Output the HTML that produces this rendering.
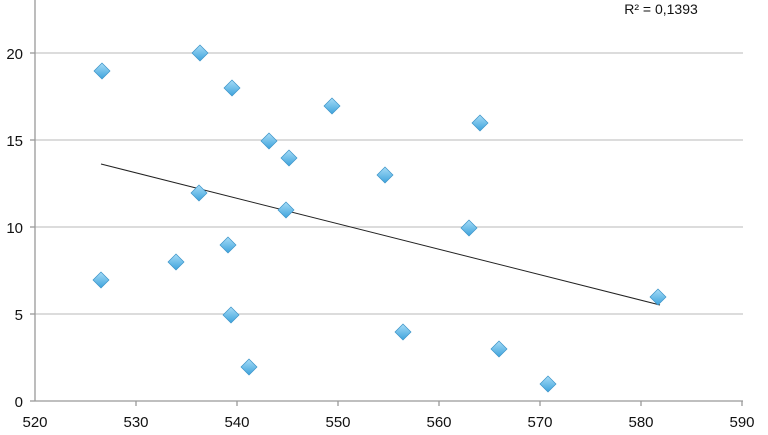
<!DOCTYPE html>
<html><head><style>body{margin:0;background:#fff}</style></head><body>
<svg width="768" height="430" xmlns="http://www.w3.org/2000/svg" font-family="Liberation Sans, sans-serif">
<defs>
<linearGradient id="g" x1="0" y1="0" x2="0" y2="1"><stop offset="0" stop-color="#a6dcf7"/><stop offset="1" stop-color="#3ea3dc"/></linearGradient>
<g id="d"><path d="M0,-8 L8,0 L0,8 L-8,0Z" fill="url(#g)" stroke="#3b93c8" stroke-width="0.7"/></g>
</defs>
<g stroke="#c8c8c8" stroke-width="1.3">
<line x1="35" y1="53" x2="743" y2="53"/><line x1="35" y1="140" x2="743" y2="140"/><line x1="35" y1="227" x2="743" y2="227"/><line x1="35" y1="314" x2="743" y2="314"/>
</g>
<g stroke="#999" stroke-width="1.3">
<line x1="35" y1="0" x2="35" y2="401"/><line x1="35" y1="401" x2="743" y2="401"/>
<line x1="30" y1="53" x2="35" y2="53"/><line x1="30" y1="140" x2="35" y2="140"/><line x1="30" y1="227" x2="35" y2="227"/><line x1="30" y1="314" x2="35" y2="314"/><line x1="30" y1="401" x2="35" y2="401"/>
<line x1="136" y1="401" x2="136" y2="406"/><line x1="237" y1="401" x2="237" y2="406"/><line x1="338" y1="401" x2="338" y2="406"/><line x1="439" y1="401" x2="439" y2="406"/><line x1="540" y1="401" x2="540" y2="406"/><line x1="641" y1="401" x2="641" y2="406"/><line x1="742" y1="401" x2="742" y2="406"/>
</g>
<g font-size="15" fill="#111" text-anchor="end">
<text x="23" y="59">20</text><text x="23" y="146">15</text><text x="23" y="233">10</text><text x="23" y="320">5</text><text x="23" y="407">0</text>
</g>
<g font-size="15" fill="#111" text-anchor="middle">
<text x="35" y="427">520</text><text x="136" y="427">530</text><text x="237" y="427">540</text><text x="338" y="427">550</text><text x="439" y="427">560</text><text x="540" y="427">570</text><text x="641" y="427">580</text><text x="742" y="427">590</text>
</g>
<text x="661" y="14" font-size="14" fill="#111" text-anchor="middle">R² = 0,1393</text>
<line x1="101" y1="164" x2="660" y2="305" stroke="#222" stroke-width="1"/>
<use href="#d" x="102" y="71"/><use href="#d" x="200" y="53"/><use href="#d" x="232" y="88"/><use href="#d" x="332" y="106"/>
<use href="#d" x="269" y="141"/><use href="#d" x="289" y="158"/><use href="#d" x="480" y="123"/><use href="#d" x="385" y="175"/>
<use href="#d" x="199" y="193"/><use href="#d" x="286" y="210"/><use href="#d" x="469" y="228"/><use href="#d" x="228" y="245"/>
<use href="#d" x="176" y="262"/><use href="#d" x="101" y="280"/><use href="#d" x="658" y="297"/><use href="#d" x="231" y="315"/>
<use href="#d" x="403" y="332"/><use href="#d" x="499" y="349"/><use href="#d" x="249" y="367"/><use href="#d" x="548" y="384"/>
</svg>
</body></html>
